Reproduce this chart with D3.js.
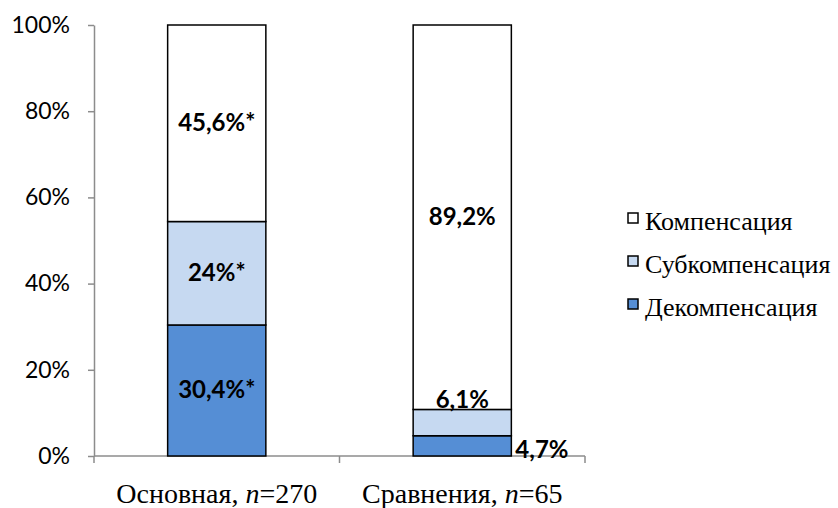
<!DOCTYPE html>
<html>
<head>
<meta charset="utf-8">
<script src="https://cdn.jsdelivr.net/npm/d3@7/dist/d3.min.js"></script>
<style>
  html, body { margin: 0; padding: 0; background: #fff; }
  svg { display: block; }
</style>
</head>
<body>
<svg id="chart" width="838" height="508"></svg>
<script>
// Groups and the share of each compensation state (percent)
const groups = ["Основная, n=270", "Сравнения, n=65"];
const groupNames = ["Основная", "Сравнения"];
const groupN = [270, 65];
const series = ["Декомпенсация", "Субкомпенсация", "Компенсация"];
const decompensation = [30.4, 4.7];
const subcompensation = [24, 6.1];
const compensation = [45.6, 89.2];
const valueLabels = [
  ["30,4%*", "24%*", "45,6%*"],
  ["4,7%", "6,1%", "89,2%"]
];
const yTicks = [0, 20, 40, 60, 80, 100];
const legendOrder = ["Компенсация", "Субкомпенсация", "Декомпенсация"];

const colors = {
  "Декомпенсация": "#558ed5",
  "Субкомпенсация": "#c6d9f1",
  "Компенсация": "#ffffff"
};

const SERIF = '"Liberation Serif", "Times New Roman"';
const SANS = 'Lato, "Open Sans", sans-serif';

const svg = d3.select("#chart");
const margin = { left: 94, right: 253, top: 25, bottom: 52 };
const width = 838, height = 508;

const x = d3.scaleBand()
  .domain(groups)
  .range([margin.left, width - margin.right])
  .paddingInner(0.6)
  .paddingOuter(0.3);

const y = d3.scaleLinear()
  .domain([0, 100])
  .range([height - margin.bottom, margin.top]);

const table = groups.map((g, i) => ({
  group: g,
  "Декомпенсация": decompensation[i],
  "Субкомпенсация": subcompensation[i],
  "Компенсация": compensation[i]
}));
const stacked = d3.stack().keys(series)(table);

// Y axis
const yAxis = svg.append("g")
  .attr("transform", `translate(${margin.left},0)`)
  .call(d3.axisLeft(y).tickValues(yTicks).tickFormat(d => d + "%").tickSize(6).tickSizeOuter(0));
yAxis.select(".domain").attr("stroke", "#8c8c8c").attr("stroke-width", 1.5);
yAxis.selectAll(".tick line").attr("stroke", "#8c8c8c").attr("stroke-width", 1.5);
yAxis.selectAll(".tick text")
  .style("font-family", SANS)
  .style("font-size", "23px")
  .attr("fill", "#000")
  .attr("x", -24);

// X axis with tick marks on band boundaries
const xBase = y(0);
const bounds = [margin.left, width - margin.right];
svg.append("line")
  .attr("x1", bounds[0]).attr("x2", bounds[1])
  .attr("y1", xBase).attr("y2", xBase)
  .attr("stroke", "#8c8c8c").attr("stroke-width", 1.5);
const boundaryTicks = [margin.left, (x(groups[0]) + x(groups[1]) + x.bandwidth()) / 2, width - margin.right];
svg.selectAll(".xtick").data(boundaryTicks).enter().append("line")
  .attr("x1", d => d).attr("x2", d => d)
  .attr("y1", xBase).attr("y2", xBase + 7)
  .attr("stroke", "#8c8c8c").attr("stroke-width", 1.5);

// Category labels
const catText = svg.selectAll(".cat").data(groups).enter().append("text")
  .attr("x", d => x(d) + x.bandwidth() / 2)
  .attr("y", 503)
  .attr("text-anchor", "middle")
  .style("font-family", SERIF)
  .style("font-size", "28px")
  .attr("fill", "#000");
catText.each(function(d, i) {
  const t = d3.select(this);
  t.append("tspan").text(groupNames[i] + ", ");
  t.append("tspan").style("font-style", "italic").text("n");
  t.append("tspan").text("=" + groupN[i]);
});

// Stacked bars
const layer = svg.selectAll(".layer").data(stacked).enter().append("g")
  .attr("fill", d => colors[d.key]);
layer.selectAll("rect").data(d => d).enter().append("rect")
  .attr("x", d => x(d.data.group))
  .attr("width", x.bandwidth())
  .attr("y", d => y(d[1]))
  .attr("height", d => y(d[0]) - y(d[1]))
  .attr("stroke", "#000")
  .attr("stroke-width", 1.5);

// Value labels
stacked.forEach((s, si) => {
  s.forEach((d, gi) => {
    const cx = x(d.data.group) + x.bandwidth() / 2;
    let lx = cx, ly = (y(d[0]) + y(d[1])) / 2 + 8, anchor = "middle";
    if (gi === 1 && si === 0) {
      // thin bottom segment: label to the right of the bar
      lx = x(d.data.group) + x.bandwidth() + 4;
      ly = (y(d[0]) + y(d[1])) / 2 + 12;
      anchor = "start";
    } else if (gi === 1 && si === 1) {
      // thin middle segment: label just above it
      ly = y(d[1]) - 1;
    }
    svg.append("text")
      .attr("x", lx).attr("y", ly)
      .attr("text-anchor", anchor)
      .style("font-family", SANS)
      .style("font-weight", "bold")
      .style("font-size", "24px")
      .attr("fill", "#000")
      .text(valueLabels[gi][si]);
  });
});

// Legend
const legend = svg.append("g").attr("transform", "translate(628,222)");
legendOrder.forEach((k, i) => {
  const g = legend.append("g").attr("transform", `translate(0,${i * 43})`);
  g.append("rect")
    .attr("x", 0).attr("y", -9)
    .attr("width", 10).attr("height", 10)
    .attr("fill", colors[k])
    .attr("stroke", "#000").attr("stroke-width", 1.5);
  g.append("text")
    .attr("x", 17).attr("y", 8)
    .style("font-family", SERIF)
    .style("font-size", "26px")
    .attr("fill", "#000")
    .text(k);
});
</script>
</body>
</html>
